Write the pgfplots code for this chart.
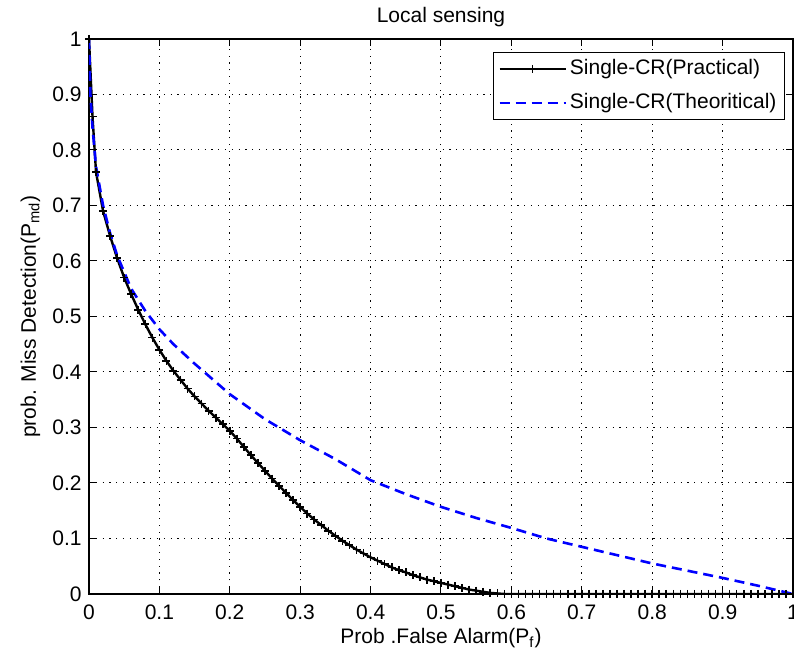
\documentclass[border=0pt]{standalone}
\usepackage{fontspec}
\setmainfont{Liberation Sans}
\usepackage{pgfplots}
\pgfplotsset{compat=1.18}
\begin{document}
\begin{tikzpicture}
\useasboundingbox (-44.5pt,-32.5pt) rectangle (352.5pt,297pt);
\begin{axis}[
  at={(0,0)}, anchor=south west,
  scale only axis, width=352pt, height=277.5pt,
  xmin=0, xmax=1, ymin=0, ymax=1,
  xtick={0,0.1,...,1}, ytick={0,0.1,...,1},
  xticklabels={0,0.1,0.2,0.3,0.4,0.5,0.6,0.7,0.8,0.9,1},
  yticklabels={0,0.1,0.2,0.3,0.4,0.5,0.6,0.7,0.8,0.9,1},
  tick align=inside, major tick length=3.5pt,
  tick style={black, line width=0.5pt},
  axis line style={black, line width=0.6pt},
  grid=major,
  major grid style={black, line width=0.5pt, dash pattern=on 0.6pt off 2.8pt},
  font=\fontsize{10.5}{12}\selectfont,
  xticklabel style={anchor=base, yshift=-13pt, inner sep=0pt},
  yticklabel style={anchor=east, xshift=-3.5pt, inner sep=0pt},
  every axis title shift=0pt,
  title={Local sensing},
  title style={at={(axis description cs:0.5,1)}, anchor=base, yshift=8pt, inner sep=0pt, font=\fontsize{10.5}{12}\selectfont},
  xlabel={Prob .False Alarm(P\textsubscript{f})},
  xlabel style={at={(axis description cs:0.5,0)}, anchor=base, yshift=-25pt, inner sep=0pt},
  ylabel={prob. Miss Detection(P\textsubscript{md})},
  ylabel style={at={(axis description cs:-0.0753,0.5)}, rotate=0, anchor=base, inner sep=0pt},
  legend style={at={(axis description cs:1,1)}, anchor=north east, xshift=-4pt, yshift=-6.5pt,
    draw=black, line width=0.5pt, inner xsep=2.5pt, inner ysep=1.5pt, row sep=3.5pt,
    font=\fontsize{10.5}{12}\selectfont,
    nodes={inner sep=1.5pt, text height=8pt, text depth=2.5pt}},
  legend cell align=left,
  legend image code/.code={\draw[mark repeat=2,mark phase=2,#1] plot coordinates {(0cm,0cm) (0.58cm,0cm) (1.16cm,0cm)};},
]
\addplot[black, line width=1.2pt, mark=+, mark size=2pt, mark options={solid, line width=0.8pt}] coordinates {
(0,1.0) (0.005,0.86) (0.01,0.76) (0.02,0.69) (0.03,0.645) (0.04,0.605) (0.05,0.57) (0.06,0.54) (0.07,0.512) (0.08,0.486) (0.09,0.462)
(0.10,0.44) (0.11,0.42) (0.12,0.402) (0.13,0.386) (0.14,0.37) (0.15,0.356) (0.16,0.343) (0.17,0.33) (0.18,0.318) (0.19,0.306)
(0.20,0.294) (0.21,0.28) (0.22,0.265) (0.23,0.25) (0.24,0.236) (0.25,0.222) (0.26,0.208) (0.27,0.195) (0.28,0.182) (0.29,0.169)
(0.30,0.157) (0.31,0.145) (0.32,0.134) (0.33,0.124) (0.34,0.114) (0.35,0.105) (0.36,0.096) (0.37,0.088) (0.38,0.08) (0.39,0.073)
(0.40,0.066) (0.41,0.06) (0.42,0.054) (0.43,0.048) (0.44,0.043) (0.45,0.039) (0.46,0.034) (0.47,0.03) (0.48,0.026) (0.49,0.023)
(0.50,0.02) (0.51,0.017) (0.52,0.014) (0.53,0.011) (0.54,0.008) (0.55,0.006) (0.56,0.004) (0.57,0.002) (0.58,0.001) (0.59,0)
(0.60,0) (0.61,0) (0.62,0) (0.63,0) (0.64,0) (0.65,0) (0.66,0) (0.67,0) (0.68,0) (0.69,0)
(0.70,0) (0.71,0) (0.72,0) (0.73,0) (0.74,0) (0.75,0) (0.76,0) (0.77,0) (0.78,0) (0.79,0)
(0.80,0) (0.81,0) (0.82,0) (0.83,0) (0.84,0) (0.85,0) (0.86,0) (0.87,0) (0.88,0) (0.89,0)
(0.90,0) (0.91,0) (0.92,0) (0.93,0) (0.94,0) (0.95,0) (0.96,0) (0.97,0) (0.98,0) (0.99,0) (1.0,0)
};
\addlegendentry{Single-CR(Practical)}
\addplot[blue, line width=1.3pt, dash pattern=on 5pt off 3pt] coordinates {
(0,1.0) (0.002,0.9) (0.005,0.84) (0.01,0.77) (0.02,0.70) (0.03,0.65) (0.04,0.61) (0.05,0.58) (0.06,0.55) (0.07,0.53) (0.08,0.51)
(0.10,0.477) (0.12,0.45) (0.15,0.415) (0.20,0.36) (0.25,0.315) (0.30,0.277) (0.35,0.243) (0.40,0.205) (0.45,0.18)
(0.50,0.157) (0.55,0.137) (0.60,0.119) (0.65,0.10) (0.70,0.085) (0.75,0.07) (0.80,0.055) (0.85,0.042) (0.90,0.029) (0.95,0.015) (1.0,0)
};
\addlegendentry{Single-CR(Theoritical)}
\end{axis}
\end{tikzpicture}
\end{document}
